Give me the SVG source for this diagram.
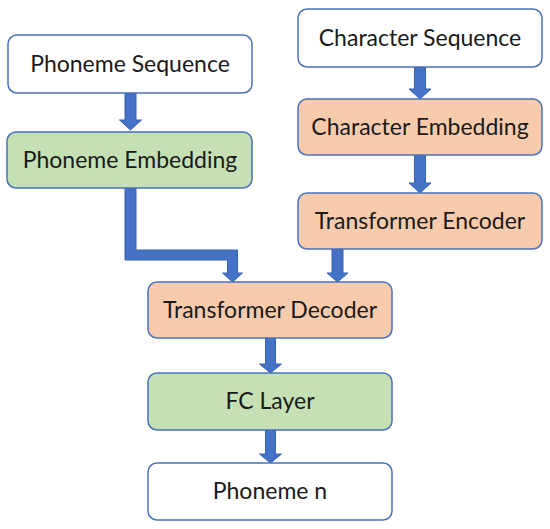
<svg xmlns="http://www.w3.org/2000/svg" width="550" height="529" viewBox="0 0 550 529">
<style>
.box{stroke:#4a72bb;stroke-width:1.5}
.w{fill:#ffffff}
.g{fill:#c5e0b4}
.o{fill:#f8cbad}
.t{font-family:Lato,"Liberation Sans",sans-serif;font-size:23px;fill:#1a1a1a;text-anchor:middle}
.arr{fill:#4472c4;stroke:#3a63ad;stroke-width:1}
</style>
<rect width="550" height="529" fill="#ffffff"/>
<g id="connectors">
<path class="arr" d="M125,93 V120 H119.5 L130.5,130 L141.5,120 H136 V93 Z"/>
<path class="arr" d="M125,188 V260 H227.5 V273 H222.5 L232.5,282 L242.5,273 H237.5 V250 H136 V188 Z"/>
<path class="arr" d="M414.5,67 V89 H409 L420,99 L431,89 H425.5 V67 Z"/>
<path class="arr" d="M414.5,155 V183 H409 L420,193 L431,183 H425.5 V155 Z"/>
<path class="arr" d="M332,249 V273 H327 L337.5,282 L348,273 H343 V249 Z"/>
<path class="arr" d="M265.5,338 V364 H259.5 L270.5,373 L281.5,364 H275.5 V338 Z"/>
<path class="arr" d="M265.5,430 V454 H259.5 L270.5,463 L281.5,454 H275.5 V430 Z"/>
</g>
<g id="phoneme-sequence">
<rect class="box w" x="8" y="35" width="244" height="58" rx="9"/>
<text class="t" x="130" y="72">Phoneme Sequence</text>
</g>
<g id="phoneme-embedding">
<rect class="box g" x="7" y="132" width="245" height="56" rx="9"/>
<text class="t" x="130" y="168">Phoneme Embedding</text>
</g>
<g id="character-sequence">
<rect class="box w" x="298" y="9" width="244" height="58" rx="9"/>
<text class="t" x="420" y="46">Character Sequence</text>
</g>
<g id="character-embedding">
<rect class="box o" x="298" y="99" width="244" height="56" rx="9"/>
<text class="t" x="420" y="135">Character Embedding</text>
</g>
<g id="transformer-encoder">
<rect class="box o" x="298" y="193" width="244" height="56" rx="9"/>
<text class="t" x="420" y="229">Transformer Encoder</text>
</g>
<g id="transformer-decoder">
<rect class="box o" x="148" y="282" width="244" height="56" rx="9"/>
<text class="t" x="270" y="318">Transformer Decoder</text>
</g>
<g id="fc-layer">
<rect class="box g" x="148" y="373" width="244" height="57" rx="9"/>
<text class="t" x="270" y="409">FC Layer</text>
</g>
<g id="phoneme-n">
<rect class="box w" x="148" y="463" width="244" height="57" rx="9"/>
<text class="t" x="270" y="499">Phoneme n</text>
</g>
</svg>
